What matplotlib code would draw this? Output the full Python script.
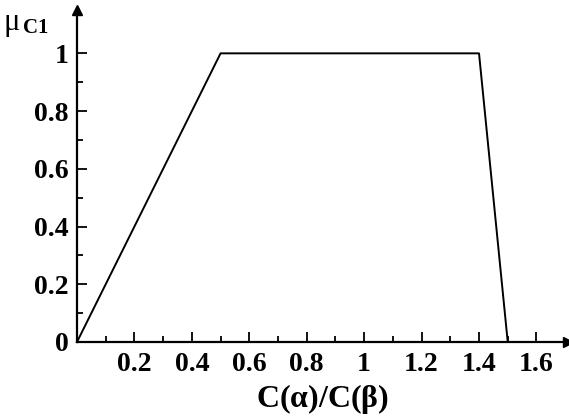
import matplotlib.pyplot as plt
import numpy as np

# membership function breakpoints
ratio = [0.0, 0.5, 1.4, 1.5]
mu = [0.0, 1.0, 1.0, 0.0]

x_major = [0.2, 0.4, 0.6, 0.8, 1.0, 1.2, 1.4, 1.6]
x_labels = ["0.2", "0.4", "0.6", "0.8", "1", "1.2", "1.4", "1.6"]
y_major = [0.0, 0.2, 0.4, 0.6, 0.8, 1.0]
y_labels = ["0", "0.2", "0.4", "0.6", "0.8", "1"]

plt.rcParams["font.family"] = ["Liberation Serif", "DejaVu Serif"]
plt.rcParams["font.weight"] = "bold"
plt.rcParams["mathtext.fontset"] = "custom"
plt.rcParams["mathtext.rm"] = "Liberation Serif"
plt.rcParams["mathtext.bf"] = "Liberation Serif:bold"

fig = plt.figure(figsize=(5.69, 4.17), dpi=100)
ax = fig.add_axes([0.1353, 0.1799, 0.863, 0.796])

ax.plot(ratio, mu, color="black", lw=1.4, clip_on=False)

ax.set_xlim(0, 1.71)
ax.set_ylim(0, 1.15)

for side in ("top", "right"):
    ax.spines[side].set_visible(False)
for side in ("left", "bottom"):
    ax.spines[side].set_linewidth(1.6)

# arrow heads at the ends of the axes
ax.plot(1, 0, ">", color="black", ms=7, transform=ax.transAxes, clip_on=False)
ax.plot(0, 1, "^", color="black", ms=7, transform=ax.transAxes, clip_on=False)

ax.set_xticks(x_major)
ax.set_xticklabels(x_labels)
ax.set_xticks(np.arange(0.1, 1.65, 0.2), minor=True)
ax.set_yticks(y_major)
ax.set_yticklabels(y_labels)
ax.set_yticks(np.arange(0.1, 0.95, 0.2), minor=True)

ax.tick_params(which="both", direction="in", width=1.3, labelsize=20)
ax.tick_params(which="major", length=7)
ax.tick_params(which="minor", length=4)
ax.tick_params(axis="x", pad=7)
ax.tick_params(axis="y", pad=6)

ax.set_xlabel(r"C($\mathregular{\alpha}$)/C($\mathregular{\beta}$)", fontsize=23,
              fontweight="bold", labelpad=4)
ax.text(-0.15, 1.0, r"$\mathregular{\mu}$", transform=ax.transAxes, fontsize=22,
        fontweight="normal", ha="left", va="top")
ax.text(-0.11, 0.975, "C1", transform=ax.transAxes, fontsize=15,
        ha="left", va="top")

fig.savefig("out.png", dpi=100)
